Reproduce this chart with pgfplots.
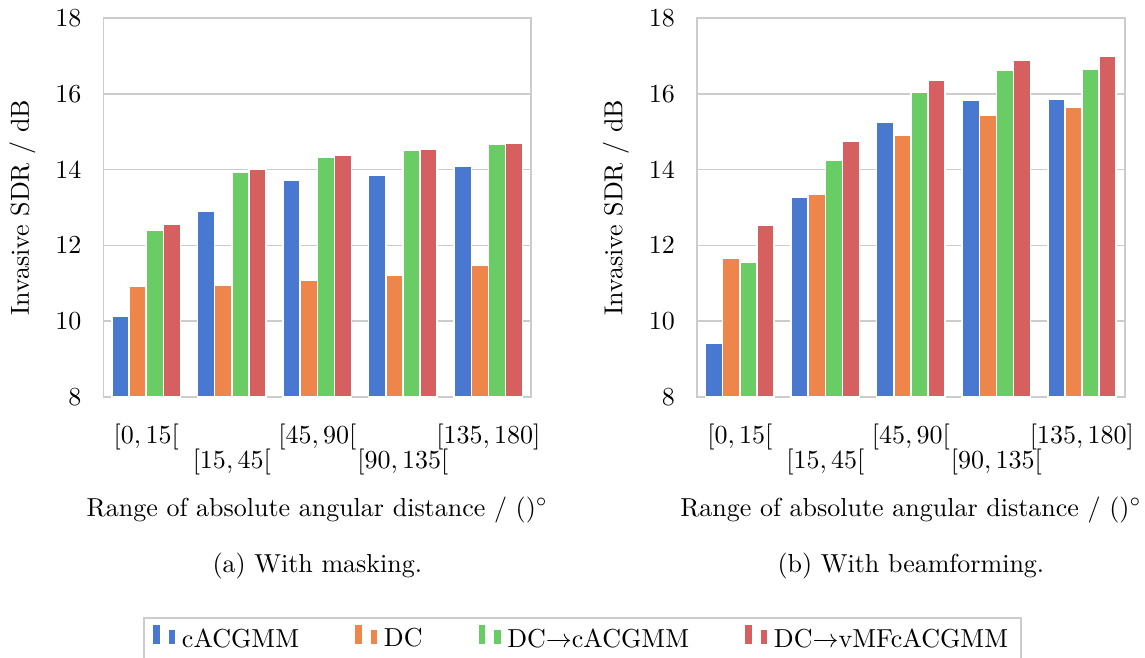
\documentclass[border=0pt]{standalone}
\usepackage{pgfplots}
\pgfplotsset{compat=1.18}
\definecolor{cblue}{HTML}{4878D0}
\definecolor{corange}{HTML}{EE854A}
\definecolor{cgreen}{HTML}{6ACC64}
\definecolor{cred}{HTML}{D65F5F}
\definecolor{gridgray}{HTML}{CCCCCC}
\pgfplotsset{
  sdrstyle/.style={
    scale only axis, width=164.5pt, height=145.8pt,
    ybar, bar width=0.2,
    xmin=-0.5, xmax=4.5, ymin=8, ymax=18,
    xtick={0,1,2,3,4},
    xticklabels={{$[0,15[$},{$[15,45[$},{$[45,90[$},{$[90,135[$},{$[135,180]$}},
    ytick={8,10,...,18},
    major tick length=0pt,
    ymajorgrids, grid style={gridgray, line width=0.6pt},
    axis line style={gridgray, line width=0.6pt},
    x tick label style={anchor=north, yshift={-6.7pt-mod(\ticknum,2)*9.6pt}},
    y tick label style={xshift=-5pt},
    ylabel={Invasive SDR / dB},
    ylabel style={at={([xshift=-31.2pt]axis description cs:0,0.5)}, anchor=center},
    xlabel={Range of absolute angular distance / ()$^\circ$},
    xlabel style={at={(axis description cs:0.5,0)}, anchor=base, yshift=-45.8pt},
    every axis plot/.append style={draw=white, line width=0.6pt},
  }
}
\begin{document}
\begin{tikzpicture}
\useasboundingbox (0,0) rectangle (440.4pt,-252.7pt);
\begin{axis}[sdrstyle, name=left, at={(39.8pt,-6.92pt)}, anchor=north west,
  legend columns=4,
  legend style={at={(0.093,-0.581)}, anchor=north west, draw=gridgray, line width=0.6pt,
    /tikz/every even column/.append style={column sep=19pt}},
  ]
\addplot[fill=cblue, bar shift=-0.3] coordinates {(0,10.13) (1,12.90) (2,13.71) (3,13.86) (4,14.10)};
\addplot[fill=corange, bar shift=-0.1] coordinates {(0,10.93) (1,10.94) (2,11.08) (3,11.21) (4,11.49)};
\addplot[fill=cgreen, bar shift=0.1] coordinates {(0,12.40) (1,13.94) (2,14.33) (3,14.52) (4,14.68)};
\addplot[fill=cred, bar shift=0.3] coordinates {(0,12.56) (1,14.01) (2,14.38) (3,14.54) (4,14.70)};
\legend{cACGMM, DC, DC$\rightarrow$cACGMM, DC$\rightarrow$vMFcACGMM}
\end{axis}
\begin{axis}[sdrstyle, name=right, at={(268.1pt,-6.92pt)}, anchor=north west]
\addplot[fill=cblue, bar shift=-0.3] coordinates {(0,9.41) (1,13.27) (2,15.24) (3,15.84) (4,15.87)};
\addplot[fill=corange, bar shift=-0.1] coordinates {(0,11.66) (1,13.36) (2,14.91) (3,15.43) (4,15.65)};
\addplot[fill=cgreen, bar shift=0.1] coordinates {(0,11.57) (1,14.25) (2,16.05) (3,16.63) (4,16.66)};
\addplot[fill=cred, bar shift=0.3] coordinates {(0,12.53) (1,14.74) (2,16.36) (3,16.89) (4,16.99)};
\end{axis}
\node[anchor=base] at ([yshift=-67.3pt]left.south) {(a) With masking.};
\node[anchor=base] at ([yshift=-67.3pt]right.south) {(b) With beamforming.};
\end{tikzpicture}
\end{document}
